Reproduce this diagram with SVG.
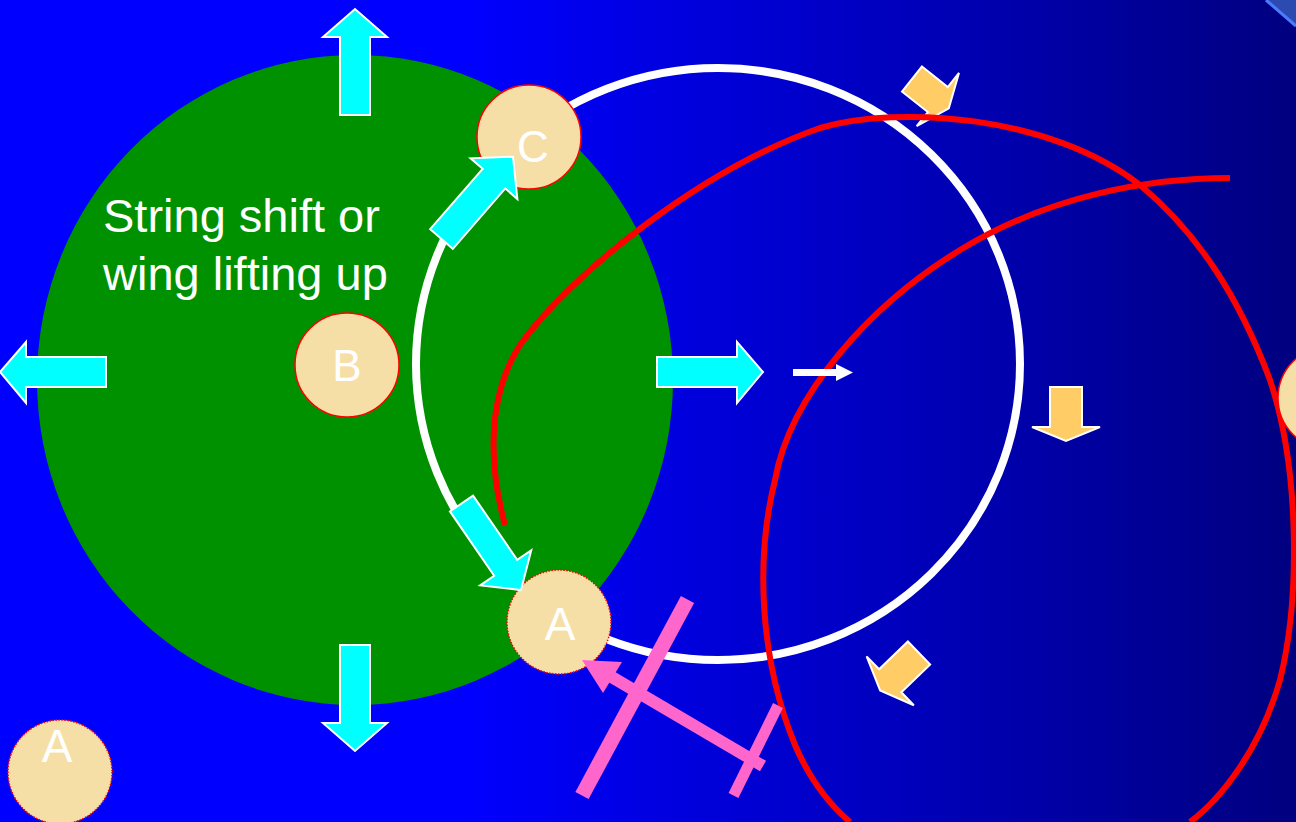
<svg xmlns="http://www.w3.org/2000/svg" width="1296" height="822" viewBox="0 0 1296 822">
<defs>
<linearGradient id="bg" x1="0" y1="0" x2="1296" y2="0" gradientUnits="userSpaceOnUse">
<stop offset="0" stop-color="#0000FF"/>
<stop offset="0.36" stop-color="#0000FF"/>
<stop offset="1" stop-color="#000080"/>
</linearGradient>
<style>
.cyan{fill:#00FFFF;stroke:#FFFFFF;stroke-width:2;stroke-linejoin:miter}
.orange{fill:#FFCC66;stroke:#FFFFFF;stroke-width:2}
.ball{fill:#F6DFA6;stroke:#FF0000;stroke-width:1.5}
.dotted{stroke-dasharray:1.5 1.5}
.lbl{font-family:"Liberation Sans",Arial,sans-serif;fill:#FFFFFF}
.red{fill:none;stroke:#FF0000;stroke-width:6;stroke-linecap:butt}
.pink{stroke:#FF66CC;stroke-linecap:butt;fill:none}
</style>
</defs>
<rect x="0" y="0" width="1296" height="822" fill="url(#bg)"/>
<polygon points="1266,0 1296,0 1296,26" fill="#2B4BB0"/>
<line x1="1266" y1="0" x2="1296" y2="26" stroke="#4D7BFF" stroke-width="3"/>

<g id="green-area">
<ellipse cx="355" cy="380" rx="318" ry="325" fill="#009100"/>
</g>
<g id="white-orbit">
<ellipse cx="718" cy="364" rx="302" ry="296" fill="none" stroke="#FFFFFF" stroke-width="8"/>
</g>

<g id="orange-arrows">
<polygon class="orange" transform="translate(912,79) rotate(38.5)" points="0,-16 33,-16 33,-34 47,0 33,34 33,16 0,16"/>
<polygon class="orange" transform="translate(1066,387) rotate(90)" points="0,-16 40,-16 40,-34 54,0 40,34 40,16 0,16"/>
<polygon class="orange" transform="translate(919,653) rotate(136)" points="0,-16 40,-16 40,-34 54,0 40,34 40,16 0,16"/>
</g>

<g id="connectors">
<path class="red" d="M505,525 C490,470 485,400 520,345 C570,275 700,170 820,128 C900,105 1050,115 1140,185 C1200,235 1240,300 1270,380 C1300,470 1300,600 1280,680 C1260,750 1220,800 1190,822"/>
<path class="red" d="M1230,178 C1150,178 1050,195 960,250 C870,305 790,395 775,480 C755,560 760,660 795,745 C810,780 830,805 850,822"/>
<g id="white-arrow">
<line x1="793" y1="372.5" x2="838" y2="372.5" stroke="#FFFFFF" stroke-width="7"/>
<polygon points="836,364 853,372.5 836,381" fill="#FFFFFF"/>
</g>
</g>

<g id="node-C">
<circle class="ball" cx="529" cy="137" r="52"/>
<text class="lbl" x="533" y="162" font-size="44" text-anchor="middle">C</text>
</g>
<g id="node-B">
<circle class="ball" cx="347" cy="365" r="52"/>
<text class="lbl" x="347" y="381" font-size="44" text-anchor="middle">B</text>
</g>
<g id="node-A-mid">
<circle class="ball dotted" cx="559" cy="622" r="52"/>
<text class="lbl" x="560" y="640" font-size="46" text-anchor="middle">A</text>
</g>
<g id="node-A-corner">
<circle class="ball dotted" cx="60" cy="772" r="52"/>
<text class="lbl" x="57" y="762" font-size="46" text-anchor="middle">A</text>
</g>
<g id="node-right">
<circle class="ball" cx="1330" cy="398" r="52"/>
</g>

<g id="cyan-arrows">
<polygon class="cyan" points="340,115 370,115 370,37 387,37 355,9 323,37 340,37"/>
<polygon class="cyan" points="340,645 370,645 370,723 387,723 355,751 323,723 340,723"/>
<polygon class="cyan" points="106,357 106,387 26,387 26,403 0,372 26,342 26,357"/>
<polygon class="cyan" points="657,357 737,357 737,342 763,372 737,403 737,387 657,387"/>
<polygon class="cyan" transform="translate(441.5,239) rotate(-49)" points="0,-15 80,-15 80,-31 109,0 80,31 80,15 0,15"/>
<polygon class="cyan" transform="translate(461.5,503.5) rotate(55.5)" points="0,-14 78,-14 78,-31 105,0 78,31 78,14 0,14"/>
</g>

<g id="pink-marker">
<line class="pink" x1="687.5" y1="599.5" x2="582" y2="795.5" stroke-width="15"/>
<line class="pink" x1="778" y1="705.5" x2="733.5" y2="795.5" stroke-width="11"/>
<line class="pink" x1="763" y1="766" x2="610" y2="676" stroke-width="12"/>
<polygon points="582,660 622,662 603,693" fill="#FF66CC"/>
</g>

<g id="caption">
<text class="lbl" x="103" y="232" font-size="47">String shift or</text>
<text class="lbl" x="103" y="290" font-size="47">wing lifting up</text>
</g>
</svg>
